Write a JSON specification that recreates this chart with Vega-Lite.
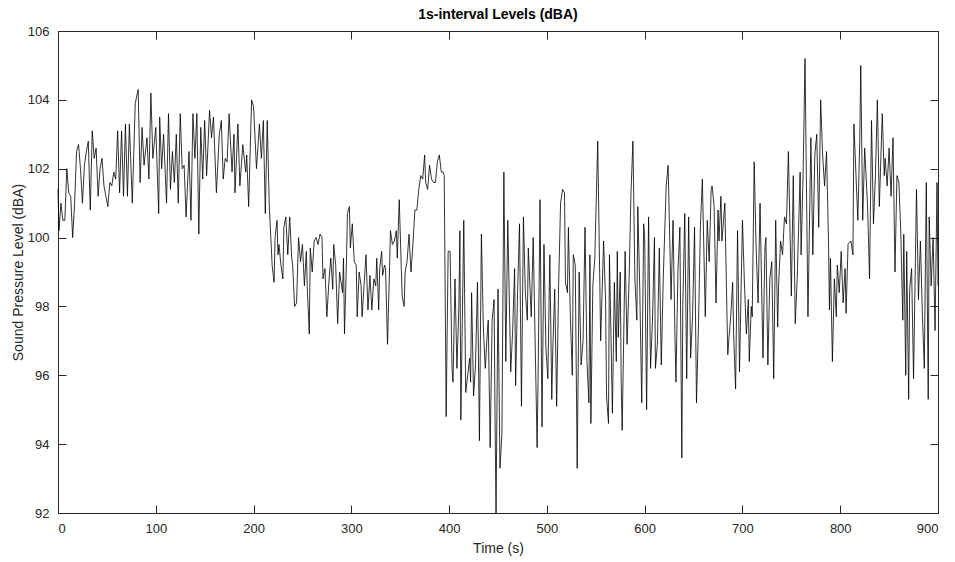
{
  "$schema": "https://vega.github.io/schema/vega-lite/v6.json",
  "width": 880,
  "height": 482,
  "autosize": {"type": "none"},
  "padding": {"left": 58, "top": 31, "right": 17, "bottom": 49},
  "background": "white",
  "title": {"text": "1s-interval Levels (dBA)", "fontSize": 14, "fontWeight": "bold", "color": "black", "font": "Liberation Sans", "offset": 3},
  "config": {
    "view": {"stroke": "#262626", "strokeWidth": 1},
    "axis": {"grid": false, "domainColor": "#262626", "tickColor": "#262626", "labelColor": "#262626", "titleColor": "#262626", "labelFont": "Liberation Sans", "titleFont": "Liberation Sans", "labelFontSize": 13, "titleFontSize": 14, "titleFontWeight": "normal", "tickSize": -8, "labelPadding": 17}
  },
  "data": {"values": [
    {"t":0,"v":101.4},{"t":1,"v":100.2},{"t":3,"v":101.0},{"t":5,"v":100.5},{"t":7,"v":100.5},{"t":9,"v":102.0},{"t":11,"v":101.3},{"t":13,"v":101.2},{"t":15,"v":100.0},{"t":17,"v":101.0},{"t":19,"v":102.5},{"t":21,"v":102.7},{"t":23,"v":102.0},{"t":25,"v":101.0},{"t":27,"v":102.1},{"t":29,"v":102.5},{"t":31,"v":102.8},{"t":33,"v":100.8},{"t":35,"v":103.1},{"t":37,"v":102.3},{"t":39,"v":102.6},{"t":41,"v":101.2},{"t":43,"v":102.0},{"t":45,"v":102.3},{"t":47,"v":101.5},{"t":49,"v":101.2},{"t":51,"v":100.9},{"t":53,"v":101.6},{"t":55,"v":101.5},{"t":57,"v":101.9},{"t":59,"v":101.7},{"t":61,"v":103.1},{"t":63,"v":101.3},{"t":65,"v":103.1},{"t":67,"v":101.2},{"t":69,"v":103.3},{"t":71,"v":101.2},{"t":73,"v":103.3},
    {"t":76,"v":101.0},{"t":79,"v":103.9},{"t":82,"v":104.3},{"t":84,"v":101.6},{"t":86,"v":103.2},{"t":88,"v":102.1},{"t":91,"v":102.9},{"t":93,"v":101.7},{"t":95,"v":104.2},{"t":97,"v":102.3},{"t":100,"v":103.2},{"t":103,"v":100.7},{"t":104,"v":103.5},{"t":106,"v":102.0},{"t":108,"v":103.0},{"t":111,"v":101.0},{"t":113,"v":103.6},{"t":115,"v":101.4},{"t":117,"v":102.5},{"t":119,"v":101.6},{"t":121,"v":103.0},{"t":123,"v":101.0},{"t":125,"v":103.6},{"t":127,"v":102.0},{"t":129,"v":102.1},{"t":131,"v":100.6},{"t":134,"v":102.5},{"t":136,"v":100.5},{"t":138,"v":103.6},{"t":140,"v":102.3},{"t":142,"v":103.6},{"t":144,"v":100.1},{"t":146,"v":103.2},{"t":148,"v":101.7},{"t":150,"v":103.4},
    {"t":152,"v":101.8},{"t":155,"v":103.7},{"t":157,"v":102.9},{"t":159,"v":103.5},{"t":162,"v":101.3},{"t":165,"v":103.0},{"t":167,"v":103.4},{"t":169,"v":101.7},{"t":171,"v":102.3},{"t":173,"v":102.2},{"t":175,"v":103.6},{"t":178,"v":101.9},{"t":180,"v":103.0},{"t":181,"v":101.3},{"t":183,"v":102.6},{"t":184,"v":103.3},{"t":186,"v":101.5},{"t":189,"v":102.7},{"t":192,"v":101.9},{"t":193,"v":102.4},{"t":195,"v":100.9},{"t":198,"v":104.0},{"t":200,"v":103.8},{"t":203,"v":102.0},{"t":206,"v":103.3},{"t":208,"v":102.3},{"t":210,"v":103.4},{"t":212,"v":100.7},{"t":214,"v":103.4},{"t":216,"v":101.0},{"t":219,"v":99.2},
    {"t":221,"v":98.7},{"t":222,"v":100.0},{"t":224,"v":100.5},{"t":225,"v":99.5},{"t":226,"v":99.8},{"t":228,"v":99.2},{"t":230,"v":98.8},{"t":231,"v":100.3},{"t":233,"v":100.6},{"t":235,"v":99.5},{"t":237,"v":100.6},{"t":239,"v":99.4},{"t":240,"v":99.2},{"t":242,"v":98.0},{"t":244,"v":98.1},{"t":246,"v":100.0},{"t":248,"v":99.3},{"t":250,"v":99.8},{"t":252,"v":98.6},{"t":254,"v":99.6},{"t":255,"v":98.5},{"t":257,"v":97.2},{"t":258,"v":99.7},{"t":260,"v":99.0},{"t":262,"v":99.9},{"t":264,"v":100.0},{"t":266,"v":99.8},{"t":268,"v":100.1},{"t":270,"v":100.0},{"t":271,"v":98.8},{"t":273,"v":99.1},{"t":275,"v":97.7},{"t":277,"v":98.7},{"t":279,"v":99.4},{"t":281,"v":98.5},{"t":282,"v":99.8},{"t":284,"v":99.2},{"t":286,"v":97.5},{"t":288,"v":99.0},{"t":291,"v":98.4},{"t":292,"v":99.4},{"t":293,"v":97.2},{"t":295,"v":99.3},{"t":296,"v":100.7},{"t":298,"v":100.9},{"t":299,"v":99.7},{"t":301,"v":100.4},
    {"t":303,"v":99.3},{"t":305,"v":99.2},{"t":306,"v":97.7},{"t":308,"v":99.0},{"t":310,"v":98.6},{"t":311,"v":97.7},{"t":313,"v":98.6},{"t":315,"v":99.5},{"t":317,"v":97.9},{"t":319,"v":98.9},{"t":321,"v":97.9},{"t":323,"v":98.8},{"t":325,"v":98.6},{"t":326,"v":99.4},{"t":328,"v":97.9},{"t":329,"v":99.1},{"t":331,"v":99.6},{"t":332,"v":98.9},{"t":334,"v":99.2},{"t":335,"v":99.1},{"t":337,"v":96.9},{"t":339,"v":99.0},{"t":340,"v":100.2},{"t":342,"v":99.8},{"t":344,"v":99.9},{"t":346,"v":100.2},{"t":347,"v":99.4},{"t":349,"v":101.1},{"t":351,"v":99.2},{"t":352,"v":98.3},{"t":354,"v":98.0},{"t":355,"v":99.0},{"t":357,"v":99.3},{"t":359,"v":100.1},{"t":361,"v":99.0},{"t":363,"v":99.8},{"t":365,"v":100.8},{"t":367,"v":100.8},{"t":369,"v":101.4},{"t":371,"v":101.8},{"t":373,"v":101.7},{"t":375,"v":102.4},
    {"t":376,"v":101.6},{"t":378,"v":101.4},{"t":380,"v":102.1},{"t":382,"v":101.7},{"t":384,"v":101.6},{"t":386,"v":101.6},{"t":388,"v":102.2},{"t":390,"v":102.4},{"t":392,"v":101.9},{"t":394,"v":101.9},{"t":395,"v":101.8},{"t":397,"v":94.8},{"t":399,"v":99.6},{"t":401,"v":99.6},{"t":403,"v":96.2},{"t":404,"v":95.8},{"t":406,"v":98.8},{"t":408,"v":96.2},{"t":410,"v":98.0},{"t":411,"v":100.2},{"t":412,"v":94.7},{"t":415,"v":100.5},{"t":417,"v":95.5},{"t":419,"v":96.0},{"t":421,"v":96.5},{"t":422,"v":95.8},{"t":423,"v":98.4},{"t":425,"v":95.4},{"t":427,"v":96.3},{"t":429,"v":98.7},{"t":430,"v":96.6},{"t":431,"v":94.1},{"t":433,"v":100.1},{"t":435,"v":97.4},{"t":437,"v":96.2},{"t":439,"v":97.2},{"t":440,"v":97.6},{"t":442,"v":93.9},{"t":444,"v":97.6},{"t":446,"v":98.2},{"t":447,"v":94.7},{"t":448,"v":92.0},
    {"t":450,"v":98.5},{"t":452,"v":93.3},{"t":454,"v":94.3},{"t":456,"v":101.9},{"t":458,"v":96.4},{"t":460,"v":100.5},{"t":463,"v":96.1},{"t":465,"v":97.3},{"t":467,"v":99.1},{"t":468,"v":95.7},{"t":470,"v":98.4},{"t":472,"v":100.4},{"t":474,"v":95.1},{"t":476,"v":100.6},{"t":478,"v":98.4},{"t":480,"v":97.6},{"t":481,"v":99.7},{"t":484,"v":97.7},{"t":486,"v":100.0},{"t":490,"v":93.9},{"t":491,"v":95.9},{"t":493,"v":101.1},{"t":495,"v":94.5},{"t":497,"v":99.8},{"t":499,"v":96.8},{"t":501,"v":95.9},{"t":503,"v":99.5},{"t":505,"v":95.3},{"t":506,"v":96.7},{"t":508,"v":98.5},{"t":510,"v":95.1},{"t":512,"v":98.6},{"t":514,"v":101.0},{"t":516,"v":101.4},{"t":518,"v":101.3},{"t":519,"v":98.7},{"t":521,"v":98.4},
    {"t":522,"v":100.3},{"t":524,"v":97.7},{"t":526,"v":96.0},{"t":527,"v":99.5},{"t":529,"v":99.2},{"t":531,"v":93.3},{"t":533,"v":99.0},{"t":535,"v":96.3},{"t":537,"v":97.0},{"t":539,"v":100.3},{"t":541,"v":96.4},{"t":543,"v":95.2},{"t":544,"v":99.5},{"t":545,"v":94.6},{"t":547,"v":98.6},{"t":549,"v":99.4},{"t":552,"v":102.8},{"t":555,"v":97.0},{"t":558,"v":99.9},{"t":560,"v":98.2},{"t":561,"v":95.4},{"t":563,"v":94.6},{"t":564,"v":99.5},{"t":567,"v":94.9},{"t":569,"v":98.7},{"t":571,"v":96.4},{"t":572,"v":99.6},{"t":573,"v":97.1},{"t":575,"v":99.0},{"t":576,"v":95.8},{"t":577,"v":94.4},{"t":580,"v":99.6},{"t":582,"v":96.9},{"t":584,"v":98.7},{"t":586,"v":101.3},{"t":588,"v":102.8},{"t":590,"v":98.8},{"t":592,"v":97.6},{"t":593,"v":100.9},{"t":595,"v":98.5},{"t":597,"v":95.2},{"t":599,"v":100.4},
    {"t":600,"v":100.0},{"t":602,"v":95.0},{"t":604,"v":100.6},{"t":606,"v":96.2},{"t":608,"v":97.6},{"t":610,"v":100.0},{"t":611,"v":96.2},{"t":613,"v":96.9},{"t":615,"v":99.7},{"t":617,"v":96.3},{"t":619,"v":98.8},{"t":622,"v":101.5},{"t":624,"v":102.1},{"t":627,"v":98.2},{"t":629,"v":100.5},{"t":631,"v":97.1},{"t":632,"v":95.8},{"t":634,"v":99.0},{"t":636,"v":100.3},{"t":638,"v":93.6},{"t":639,"v":98.0},{"t":641,"v":100.7},{"t":643,"v":95.9},{"t":645,"v":100.6},{"t":647,"v":96.5},{"t":649,"v":97.7},{"t":651,"v":100.3},{"t":653,"v":95.2},{"t":655,"v":97.4},{"t":657,"v":100.3},{"t":659,"v":101.7},{"t":662,"v":97.7},{"t":664,"v":100.5},{"t":666,"v":99.3},{"t":668,"v":101.4},
    {"t":669,"v":101.5},{"t":671,"v":100.9},{"t":673,"v":98.1},{"t":675,"v":100.8},{"t":676,"v":99.9},{"t":678,"v":101.2},{"t":679,"v":99.9},{"t":682,"v":101.0},{"t":684,"v":98.0},{"t":685,"v":96.6},{"t":686,"v":97.0},{"t":688,"v":97.7},{"t":690,"v":98.7},{"t":691,"v":97.2},{"t":693,"v":95.6},{"t":695,"v":100.2},{"t":697,"v":96.1},{"t":700,"v":100.5},{"t":702,"v":98.7},{"t":704,"v":97.2},{"t":706,"v":98.2},{"t":707,"v":96.4},{"t":709,"v":98.0},{"t":710,"v":97.7},{"t":712,"v":102.2},{"t":714,"v":99.7},{"t":716,"v":98.1},{"t":718,"v":101.0},{"t":721,"v":96.5},{"t":723,"v":99.7},{"t":724,"v":100.0},{"t":726,"v":96.3},{"t":728,"v":98.8},{"t":730,"v":99.3},{"t":732,"v":95.9},{"t":734,"v":100.5},{"t":736,"v":97.4},{"t":737,"v":98.6},{"t":739,"v":99.9},{"t":741,"v":99.5},{"t":743,"v":100.6},
    {"t":745,"v":100.4},{"t":747,"v":102.5},{"t":749,"v":99.7},{"t":750,"v":98.3},{"t":752,"v":101.8},{"t":754,"v":97.5},{"t":756,"v":98.8},{"t":759,"v":101.9},{"t":760,"v":99.5},{"t":762,"v":101.8},{"t":764,"v":105.2},{"t":767,"v":97.7},{"t":770,"v":102.9},{"t":772,"v":99.5},{"t":774,"v":102.4},{"t":776,"v":103.0},{"t":778,"v":100.3},{"t":780,"v":104.0},{"t":782,"v":102.4},{"t":784,"v":101.5},{"t":786,"v":102.5},{"t":788,"v":99.9},{"t":789,"v":97.9},{"t":790,"v":99.4},{"t":792,"v":96.4},{"t":794,"v":98.8},{"t":796,"v":97.7},{"t":797,"v":99.2},{"t":799,"v":98.4},{"t":801,"v":99.6},{"t":803,"v":98.1},{"t":805,"v":99.1},{"t":806,"v":97.8},{"t":808,"v":99.8},{"t":811,"v":99.9},{"t":813,"v":99.5},{"t":814,"v":103.3},{"t":816,"v":101.9},{"t":818,"v":100.5},{"t":820,"v":102.8},{"t":821,"v":105.0},{"t":823,"v":100.5},
    {"t":825,"v":102.6},{"t":828,"v":100.9},{"t":830,"v":98.8},{"t":832,"v":103.4},{"t":834,"v":100.4},{"t":836,"v":101.8},{"t":838,"v":104.0},{"t":840,"v":100.9},{"t":843,"v":103.6},{"t":845,"v":101.8},{"t":846,"v":102.3},{"t":848,"v":101.5},{"t":850,"v":102.6},{"t":852,"v":101.2},{"t":854,"v":102.9},{"t":856,"v":99.0},{"t":858,"v":101.8},{"t":860,"v":101.6},{"t":862,"v":100.1},{"t":864,"v":97.6},{"t":865,"v":100.1},{"t":867,"v":96.0},{"t":868,"v":99.6},{"t":870,"v":95.3},{"t":871,"v":98.5},{"t":873,"v":99.1},{"t":875,"v":95.9},{"t":878,"v":101.4},{"t":880,"v":98.2},{"t":882,"v":99.9},{"t":884,"v":97.8},{"t":886,"v":96.2},{"t":888,"v":101.6},{"t":890,"v":95.3},{"t":891,"v":100.6},{"t":893,"v":98.6},{"t":895,"v":100.0},{"t":897,"v":97.3},{"t":899,"v":101.6},{"t":900,"v":98.6}
  ]},
  "layer": [
    {
      "mark": {"type": "line", "color": "black", "strokeWidth": 0.8},
      "encoding": {
        "x": {"field": "t", "type": "quantitative", "scale": {"domain": [0, 900], "nice": false}, "axis": {"title": "Time (s)", "values": [0,100,200,300,400,500,600,700,800,900], "titlePadding": 6}},
        "y": {"field": "v", "type": "quantitative", "scale": {"domain": [92, 106], "nice": false, "zero": false}, "axis": {"title": "Sound Pressure Level (dBA)", "values": [92,94,96,98,100,102,104,106], "titlePadding": 2}}
      }
    },
    {
      "mark": {"type": "line", "strokeOpacity": 0},
      "encoding": {
        "x": {"field": "t", "type": "quantitative", "scale": {"domain": [0, 900], "nice": false}, "axis": {"orient": "top", "title": null, "labels": false, "values": [0,100,200,300,400,500,600,700,800,900]}},
        "y": {"field": "v", "type": "quantitative", "scale": {"domain": [92, 106], "nice": false, "zero": false}, "axis": {"orient": "right", "title": null, "labels": false, "values": [92,94,96,98,100,102,104,106]}}
      }
    }
  ],
  "resolve": {"scale": {"x": "independent", "y": "independent"}}
}
